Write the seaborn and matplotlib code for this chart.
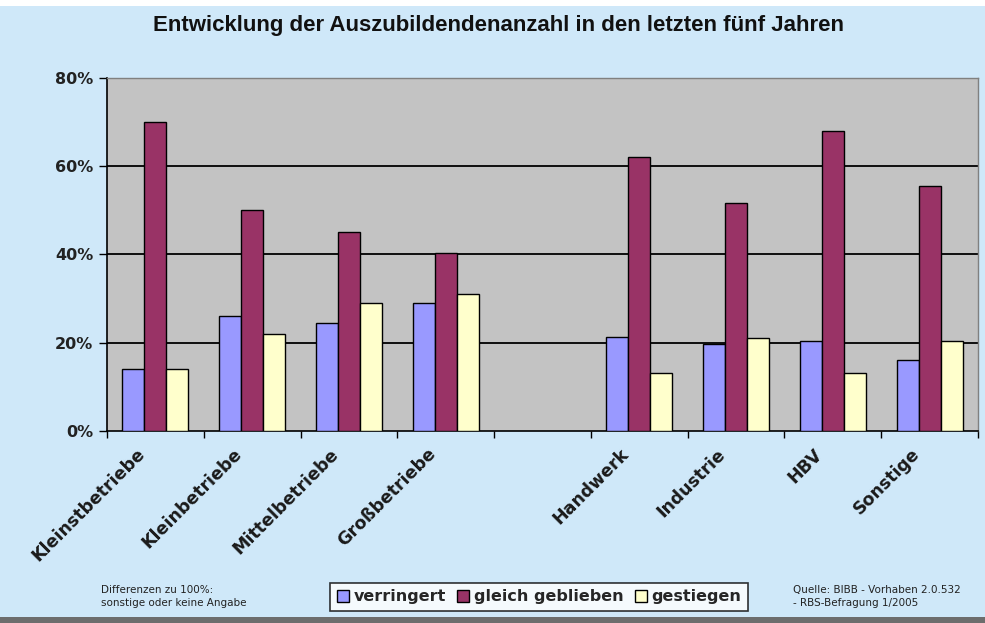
import numpy as np
import pandas as pd
import matplotlib
matplotlib.use("Agg")
import matplotlib.pyplot as plt
import seaborn as sns
from matplotlib.patches import Rectangle

categories = ["Kleinstbetriebe", "Kleinbetriebe", "Mittelbetriebe", "Großbetriebe", " ",
              "Handwerk", "Industrie", "HBV", "Sonstige"]
series = ["verringert", "gleich geblieben", "gestiegen"]
verringert = [14, 26, 24.5, 29, None, 21.4, 19.7, 20.5, 16]
gleich = [70, 50, 45, 40.4, None, 62.2, 51.6, 68.1, 55.5]
gestiegen = [14, 22, 29.1, 31, None, 13.2, 21.1, 13.2, 20.4]
yticks = [0, 20, 40, 60, 80]
colors = ["#9999FF", "#993366", "#FFFFCC"]

rows = []
for cat, a, b, c in zip(categories, verringert, gleich, gestiegen):
    for s, v in zip(series, [a, b, c]):
        if v is not None:
            rows.append({"Kategorie": cat, "Serie": s, "Wert": v})
df = pd.DataFrame(rows)

sns.set_theme(style="white")
plt.rcParams["font.family"] = ["DejaVu Sans"]

fig = plt.figure(figsize=(9.85, 6.23), dpi=100)
fig.patch.set_facecolor("#cfe8f9")
fig.patches.append(Rectangle((0, 1 - 6 / 623), 1, 6 / 623, transform=fig.transFigure,
                             facecolor="white", edgecolor="none", zorder=0))
fig.patches.append(Rectangle((0, 0), 1, 6 / 623, transform=fig.transFigure,
                             facecolor="#6d6d6d", edgecolor="none", zorder=0))

ax = fig.add_axes([107 / 985, 1 - 431 / 623, (978 - 107) / 985, (431 - 78) / 623])
ax.set_facecolor("#c3c3c3")

sns.barplot(data=df, x="Kategorie", y="Wert", hue="Serie", order=categories,
            hue_order=series, palette=colors, width=0.68, gap=0,
            edgecolor="black", linewidth=1.0, ax=ax, legend=True, errorbar=None,
            saturation=1, zorder=3)

ax.set_ylim(0, 80)
ax.set_xlim(-0.5, len(categories) - 0.5)
ax.set_yticks(yticks)
ax.set_yticklabels([f"{t}%" for t in yticks], fontsize=11.5, fontweight="bold", color="#222222")
for t in [20, 40, 60]:
    ax.axhline(t, color="black", linewidth=1.3, zorder=1)

# label anchors slightly left of slot centres, as in the reference
ax.set_xticks(np.arange(len(categories)) - 0.2)
ax.set_xticklabels(categories, rotation=45, ha="right", rotation_mode="anchor",
                   fontsize=12.5, fontweight="bold", color="#1a1a1a")
ax.tick_params(axis="x", which="major", length=0, pad=10)
ax.set_xticks(np.arange(-0.5, len(categories), 1.0), minor=True)
ax.tick_params(axis="x", which="minor", length=5, width=1, color="black", direction="out", bottom=True)
ax.tick_params(axis="y", length=6, width=1, color="black", direction="out", left=True, pad=4)
ax.set_xlabel("")
ax.set_ylabel("")

for side in ["left", "bottom"]:
    ax.spines[side].set_color("black")
    ax.spines[side].set_linewidth(1.2)
for side in ["top", "right"]:
    ax.spines[side].set_color("#808080")
    ax.spines[side].set_linewidth(1.0)

handles, labels = ax.get_legend_handles_labels()
ax.get_legend().remove()
leg = fig.legend(handles, labels, loc="center", bbox_to_anchor=(539 / 985, 1 - 597 / 623),
                 ncol=3, frameon=True, fancybox=False, fontsize=11.5,
                 handlelength=0.75, handleheight=0.75, handletextpad=0.3, columnspacing=0.7,
                 borderpad=0.4, edgecolor="black", facecolor="white")
leg.get_frame().set_linewidth(1.2)
for txt in leg.get_texts():
    txt.set_fontweight("bold")

fig.text(498 / 985, 1 - 25 / 623, "Entwicklung der Auszubildendenanzahl in den letzten fünf Jahren",
         ha="center", va="center", fontsize=16, fontweight="bold", color="#111111",
         family=["Liberation Sans", "DejaVu Sans"])
fig.text(101 / 985, 1 - 596.5 / 623, "Differenzen zu 100%:\nsonstige oder keine Angabe",
         ha="left", va="center", fontsize=7.5, color="#222222", linespacing=1.35)
fig.text(793 / 985, 1 - 596.5 / 623, "Quelle: BIBB - Vorhaben 2.0.532\n- RBS-Befragung 1/2005",
         ha="left", va="center", fontsize=7.5, color="#222222", linespacing=1.35)

fig.savefig("out.png", dpi=100, facecolor=fig.get_facecolor())
